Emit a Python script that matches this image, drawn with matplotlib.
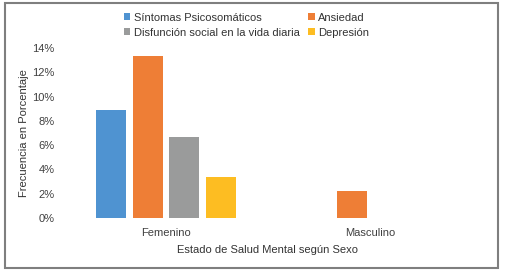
import matplotlib
matplotlib.use("Agg")
import matplotlib.pyplot as plt
from matplotlib.patches import Rectangle, Patch
from matplotlib.ticker import PercentFormatter
import numpy as np

plt.rcParams['font.family'] = ['Liberation Sans', 'DejaVu Sans']

categories = ["Femenino", "Masculino"]
series = ["Síntomas Psicosomáticos", "Ansiedad", "Disfunción social en la vida diaria", "Depresión"]
values = {
    "Síntomas Psicosomáticos": [0.089, 0.0],
    "Ansiedad": [0.133, 0.022],
    "Disfunción social en la vida diaria": [0.067, 0.0],
    "Depresión": [0.034, 0.0],
}
colors = ["#4F93D1", "#EE7E36", "#9A9B9B", "#FDBD22"]
yticks = [0, 0.02, 0.04, 0.06, 0.08, 0.10, 0.12, 0.14]

fig = plt.figure(figsize=(5.08, 2.74), dpi=100)
ax = fig.add_axes([0.126, 0.204, 0.803, 0.621])

x = np.arange(len(categories))
step = 0.18
width = 0.147
handles = []
for i, (s, c) in enumerate(zip(series, colors)):
    off = (i - 1.5) * step
    ax.bar(x + off, values[s], width=width, color=c)
    handles.append(Patch(facecolor=c, label=s))

ax.set_xlim(-0.5, 1.5)
ax.set_ylim(0, 0.14)
ax.set_yticks(yticks)
ax.yaxis.set_major_formatter(PercentFormatter(1.0, decimals=0))
ax.set_xticks(x)
ax.set_xticklabels(categories)
for sp in ax.spines.values():
    sp.set_visible(False)
ax.tick_params(axis='both', length=0, labelsize=8, colors="#404040")
ax.tick_params(axis='x', pad=7)
ax.tick_params(axis='y', pad=7)
ax.set_xlabel("Estado de Salud Mental según Sexo", fontsize=8, color="#333333", labelpad=5)
ax.set_ylabel("Frecuencia en Porcentaje", fontsize=8, color="#333333", labelpad=2)

order = [0, 2, 1, 3]
fig.legend([handles[i] for i in order], [series[i] for i in order],
           ncol=2, loc='upper left', bbox_to_anchor=(0.228, 0.982),
           frameon=False, fontsize=8, handlelength=0.6, handleheight=0.6,
           handletextpad=0.3, columnspacing=0.8, labelspacing=0.45,
           borderpad=0.2, labelcolor="#333333")

fig.add_artist(Rectangle((0.010, 0.022), 0.970, 0.967, transform=fig.transFigure,
                         fill=False, edgecolor="#7F7F7F", linewidth=1.5))

fig.savefig("out.png", dpi=100)
